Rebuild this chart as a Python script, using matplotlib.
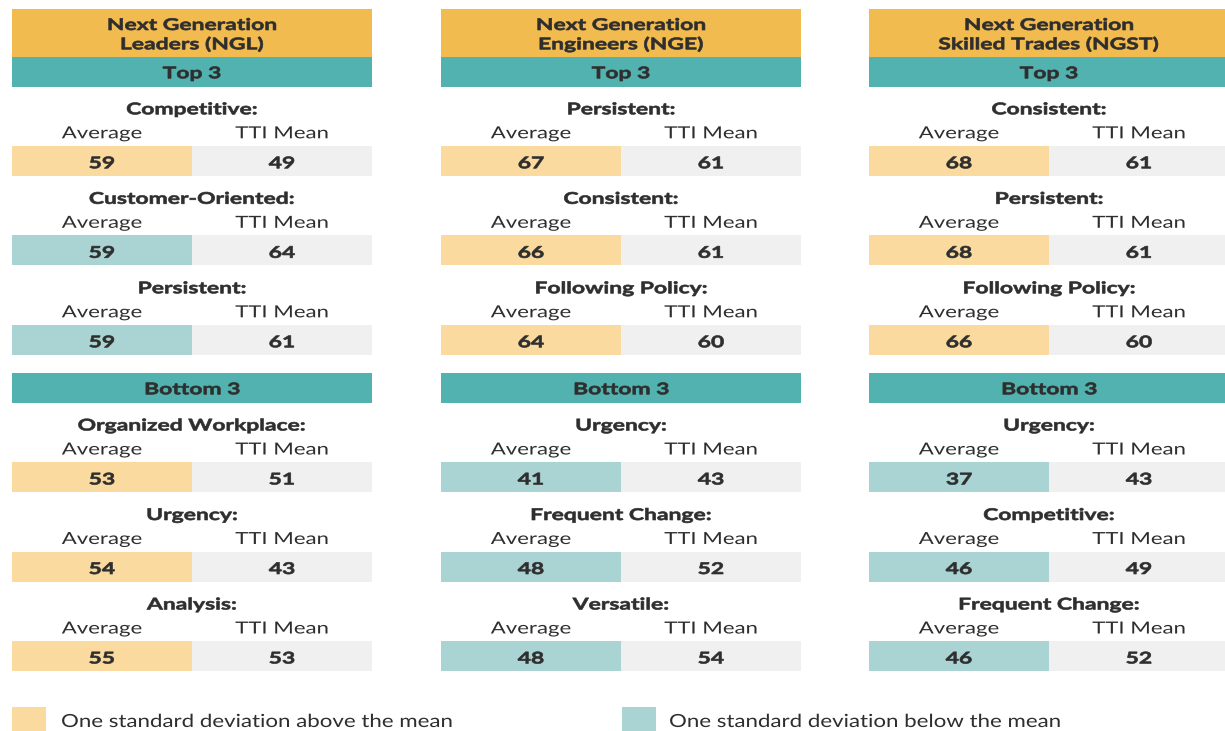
import matplotlib
matplotlib.use('Agg')
import matplotlib.pyplot as plt
from matplotlib.patches import Rectangle
from matplotlib.patheffects import AbstractPathEffect
from matplotlib.transforms import Affine2D

plt.rcParams['font.family'] = ['Lato', 'DejaVu Sans']

# ---- data ----
groups = [['Next Generation', 'Leaders (NGL)'],
          ['Next Generation', 'Engineers (NGE)'],
          ['Next Generation', 'Skilled Trades (NGST)']]

top_traits = [['Competitive:', 'Customer-Oriented:', 'Persistent:'],
              ['Persistent:', 'Consistent:', 'Following Policy:'],
              ['Consistent:', 'Persistent:', 'Following Policy:']]
top_avg = [[59, 59, 59], [67, 66, 64], [68, 68, 66]]
top_mean = [[49, 64, 61], [61, 61, 60], [61, 61, 60]]

bottom_traits = [['Organized Workplace:', 'Urgency:', 'Analysis:'],
                 ['Urgency:', 'Frequent Change:', 'Versatile:'],
                 ['Urgency:', 'Competitive:', 'Frequent Change:']]
bottom_avg = [[53, 54, 55], [41, 48, 48], [37, 46, 46]]
bottom_mean = [[51, 43, 53], [43, 52, 54], [43, 49, 52]]

legend_labels = ['One standard deviation above the mean',
                 'One standard deviation below the mean']

# ---- style ----
colors = {
    'header': '#F2BB4F',
    'teal': '#52B2AF',
    'above': '#FADA9E',
    'below': '#AAD4D3',
    'gray': '#F0F0F0',
    'text': '#2E2E2E',
}

col_x = [12, 441, 869]
col_w = 360
SX = 1.33        # the source artwork is stretched sideways
SX_BOLD = 1.42

fig = plt.figure(figsize=(12.25, 7.31), dpi=100)
ax = fig.add_axes([0, 0, 1, 1])
ax.set_xlim(0, 1225)
ax.set_ylim(731, 0)
ax.axis('off')


class StretchX(AbstractPathEffect):
    """Widen glyphs around the text anchor (optionally thicken them)."""

    def __init__(self, x_anchor, sx, stroke=0.0):
        super().__init__()
        self.x_anchor = x_anchor
        self.sx = sx
        self.stroke = stroke

    def draw_path(self, renderer, gc, tpath, affine, rgbFace=None):
        cx = ax.transData.transform((self.x_anchor, 0))[0]
        t = affine + Affine2D().translate(-cx, 0).scale(self.sx, 1).translate(cx, 0)
        if self.stroke > 0:
            gc0 = renderer.new_gc()
            gc0.copy_properties(gc)
            gc0.set_linewidth(self.stroke)
            gc0.set_foreground(rgbFace)
            renderer.draw_path(gc0, tpath, t, rgbFace)
            gc0.restore()
        else:
            renderer.draw_path(gc, tpath, t, rgbFace)


def label(x, y, s, size=12, bold=False, ha='center', sx=None):
    if sx is None:
        sx = SX_BOLD if bold else SX
    ax.text(x, y, s, ha=ha, va='baseline', fontsize=size,
            fontweight='bold' if bold else 'normal', color=colors['text'],
            path_effects=[StretchX(x, sx, 0.45 if bold else 0.0)])


def trait_block(x, y, name, avg, mean):
    # y is the baseline of the trait label
    half = col_w / 2
    label(x + half, y, name, size=11.6, bold=True)
    label(x + half / 2, y + 24, 'Average', size=12)
    label(x + half * 1.5, y + 24, 'TTI Mean', size=12)
    fill = colors['above'] if avg > mean else colors['below']
    ax.add_patch(Rectangle((x, y + 31.5), half, 30, facecolor=fill, edgecolor='none'))
    ax.add_patch(Rectangle((x + half, y + 31.5), half, 30, facecolor=colors['gray'],
                           edgecolor='none'))
    label(x + half / 2, y + 54, str(avg), size=11.6, bold=True)
    label(x + half * 1.5, y + 54, str(mean), size=11.6, bold=True)


for i, x in enumerate(col_x):
    w = col_w if i < 2 else 1225 - x
    ax.add_patch(Rectangle((x, 9), w, 48, facecolor=colors['header'], edgecolor='none'))
    label(x + col_w / 2, 30, groups[i][0], size=11.6, bold=True)
    label(x + col_w / 2, 49.3, groups[i][1], size=11.6, bold=True)
    ax.add_patch(Rectangle((x, 57), w, 30, facecolor=colors['teal'], edgecolor='none'))
    label(x + col_w / 2, 78.3, 'Top 3', size=11.6, bold=True)
    for j in range(3):
        trait_block(x, 114.3 + j * 89.5, top_traits[i][j], top_avg[i][j], top_mean[i][j])
    ax.add_patch(Rectangle((x, 373), w, 30, facecolor=colors['teal'], edgecolor='none'))
    label(x + col_w / 2, 394.3, 'Bottom 3', size=11.6, bold=True)
    for j in range(3):
        trait_block(x, 430.5 + j * 89.5, bottom_traits[i][j], bottom_avg[i][j],
                    bottom_mean[i][j])

# legend
for lx, tx, fill, lab in [(12, 61, colors['above'], legend_labels[0]),
                          (622, 669, colors['below'], legend_labels[1])]:
    ax.add_patch(Rectangle((lx, 707), 34, 24, facecolor=fill, edgecolor='none'))
    label(tx, 727, lab, size=13, ha='left', sx=1.235)

fig.savefig('out.png', dpi=100)
